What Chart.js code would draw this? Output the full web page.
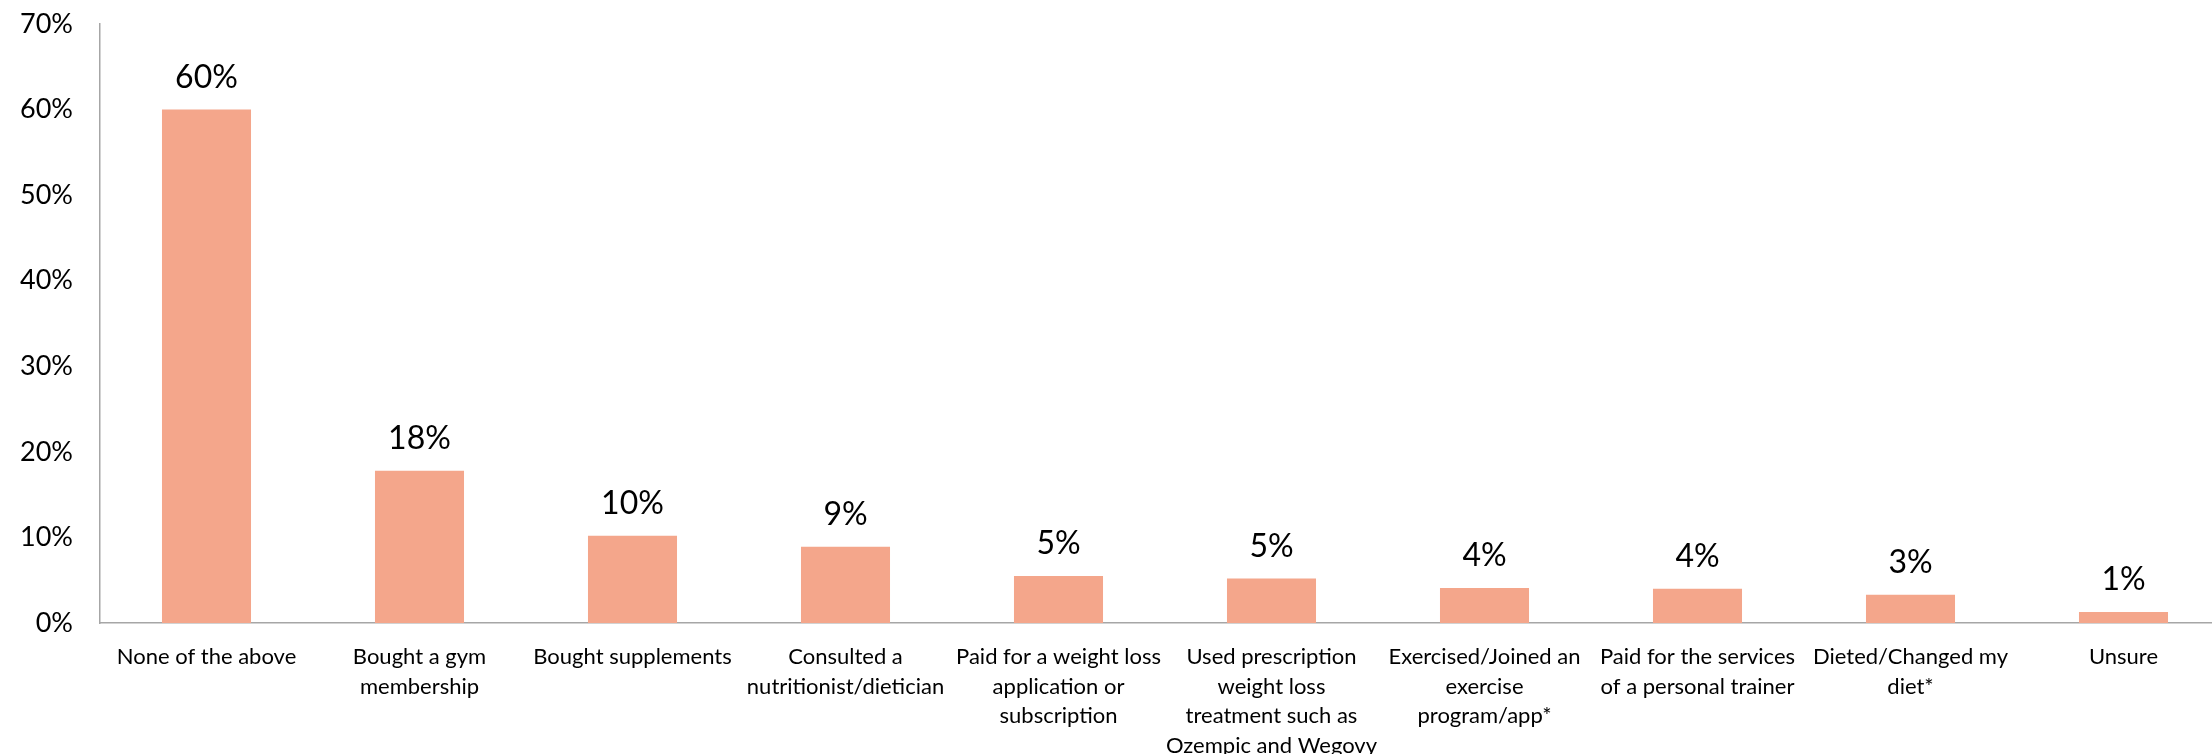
<!DOCTYPE html>
<html>
<head>
<meta charset="utf-8">
<script src="https://cdn.jsdelivr.net/npm/chart.js@4"></script>
<style>
  html, body { margin: 0; padding: 0; background: #fff; overflow: hidden; }
  /* plot runs slightly past the right edge of the window, as in the original */
  #wrap { width: 2230px; height: 754px; }
</style>
</head>
<body>
<div id="wrap"><canvas id="actionsChart"></canvas></div>
<script>
// categories (wrapped as in the original)
const categories = [
  ["None of the above"],
  ["Bought a gym", "membership"],
  ["Bought supplements"],
  ["Consulted a", "nutritionist/dietician"],
  ["Paid for a weight loss", "application or", "subscription"],
  ["Used prescription", "weight loss", "treatment such as", "Ozempic and Wegovy"],
  ["Exercised/Joined an", "exercise", "program/app*"],
  ["Paid for the services", "of a personal trainer"],
  ["Dieted/Changed my", "diet*"],
  ["Unsure"]
];

// bar heights (%)
const values = [60, 17.8, 10.2, 8.9, 5.5, 5.2, 4.1, 4.0, 3.3, 1.3];

// labels printed above the bars
const valueLabels = ["60%", "18%", "10%", "9%", "5%", "5%", "4%", "4%", "3%", "1%"];

const yTicks = [0, 10, 20, 30, 40, 50, 60, 70];

const FONT = "Lato, 'Open Sans', sans-serif";

// simple data label plugin (no datalabels lib available)
const barLabels = {
  id: "barLabels",
  afterDatasetsDraw(chart) {
    const ctx = chart.ctx;
    const meta = chart.getDatasetMeta(0);
    ctx.save();
    ctx.font = "32px " + FONT;
    ctx.fillStyle = "#000";
    ctx.textAlign = "center";
    ctx.textBaseline = "alphabetic";
    meta.data.forEach((bar, i) => {
      ctx.fillText(valueLabels[i], bar.x, bar.y - 22);
    });
    ctx.restore();
  }
};

new Chart(document.getElementById("actionsChart"), {
  type: "bar",
  data: {
    labels: categories,
    datasets: [{
      data: values,
      backgroundColor: "#f4a68b",
      borderWidth: 0,
      categoryPercentage: 1,
      barPercentage: 0.418
    }]
  },
  options: {
    responsive: true,
    maintainAspectRatio: false,
    animation: false,
    layout: { padding: { top: 24, right: 0, left: 0, bottom: 0 } },
    plugins: {
      legend: { display: false },
      tooltip: { enabled: false }
    },
    scales: {
      x: {
        grid: { display: false },
        border: { display: true, color: "#a6a6a6", width: 1.5 },
        ticks: {
          color: "#000",
          font: { family: FONT, size: 22, lineHeight: 1.35 },
          padding: 11,
          maxRotation: 0,
          autoSkip: false
        },
        afterFit(scale) { scale.height = 131; }
      },
      y: {
        min: 0,
        max: 70,
        afterBuildTicks(scale) {
          scale.ticks = yTicks.map(v => ({ value: v }));
        },
        grid: { display: false },
        border: { display: true, color: "#a6a6a6", width: 1.5 },
        ticks: {
          color: "#000",
          font: { family: FONT, size: 27 },
          padding: 19,
          callback: v => v + "%"
        },
        afterFit(scale) {
          scale.width = 100;
          // tick padding would otherwise push the plot top down
          scale.paddingTop = 0;
          scale.paddingBottom = 0;
        }
      }
    }
  },
  plugins: [barLabels]
});
</script>
</body>
</html>
